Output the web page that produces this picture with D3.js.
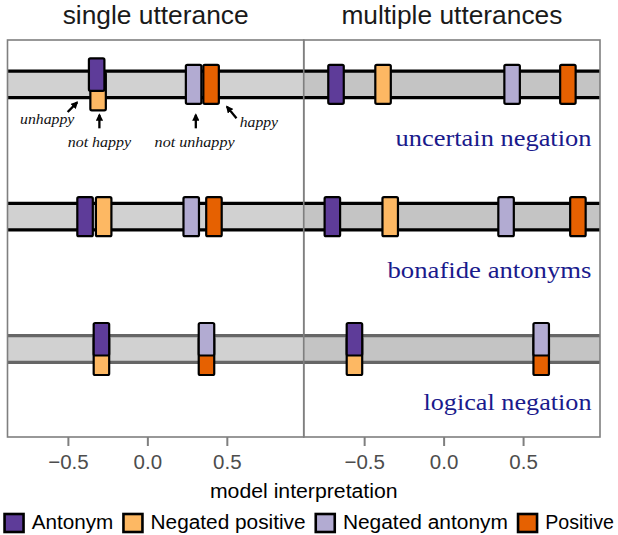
<!DOCTYPE html>
<html>
<head>
<meta charset="utf-8">
<script src="https://cdn.jsdelivr.net/npm/d3@7"></script>
<style>
  html, body { margin: 0; padding: 0; background: #fff; }
  svg { display: block; }
</style>
</head>
<body>
<svg id="chart" width="618" height="535"></svg>
<script>
// ---------------- data ----------------
const panels = ["single utterance", "multiple utterances"];
const rows = ["uncertain negation", "bonafide antonyms", "logical negation"];
const seriesNames = ["Antonym", "Negated positive", "Negated antonym", "Positive"];
const seriesColors = ["#5e3c99", "#fdb863", "#b2abd2", "#e66101"];
const tickValues = [-0.5, 0.0, 0.5];
const xDomain = [-0.88, 0.984];

// values per row (uncertain negation, bonafide antonyms, logical negation)
const antonymSingle        = [-0.319, -0.392, -0.289];
const negPositiveSingle    = [-0.310, -0.275, -0.289];
const negAntonymSingle     = [ 0.291,  0.276,  0.372];
const positiveSingle       = [ 0.401,  0.419,  0.372];

const antonymMultiple      = [-0.677, -0.700, -0.561];
const negPositiveMultiple  = [-0.381, -0.336, -0.561];
const negAntonymMultiple   = [ 0.431,  0.393,  0.614];
const positiveMultiple     = [ 0.782,  0.845,  0.614];

const annotationLabels = ["unhappy", "not happy", "not unhappy", "happy"];

const valuesByPanel = [
  [antonymSingle, negPositiveSingle, negAntonymSingle, positiveSingle],
  [antonymMultiple, negPositiveMultiple, negAntonymMultiple, positiveMultiple]
];

// ---------------- layout ----------------
const svg = d3.select("#chart");
const plotLeft = 7.5, plotRight = 600, plotTop = 40, plotBottom = 437;
const panelW = (plotRight - plotLeft) / 2;
const bandFill = ["#d1d1d1", "#c4c4c4"];
const lineColors = ["#000000", "#000000", "#666666"];
const boxW = 15.5, boxH = 39, boxStroke = 2.2;

const yRow = d3.scaleBand().domain(rows).range([plotTop, plotBottom]);
const rowCenter = r => yRow(r) + yRow.bandwidth() * 0.335;

const defs = svg.append("defs");
defs.append("marker")
  .attr("id", "ah").attr("viewBox", "0 0 10 10")
  .attr("refX", 8).attr("refY", 5)
  .attr("markerWidth", 3.2).attr("markerHeight", 3.2)
  .attr("markerUnits", "strokeWidth")
  .attr("orient", "auto")
  .append("path").attr("d", "M0,0 L10,5 L0,10 z").attr("fill", "#000");

panels.forEach((p, pi) => {
  const x0 = plotLeft + pi * panelW, x1 = x0 + panelW;
  const x = d3.scaleLinear().domain(xDomain).range([x0, x1]);
  const g = svg.append("g");

  // strip title
  g.append("text")
    .attr("x", (x0 + x1) / 2).attr("y", 24)
    .attr("text-anchor", "middle")
    .attr("font-family", "Liberation Sans, Arial, sans-serif")
    .attr("font-size", 25.5).attr("fill", "#1a1a1a")
    .attr("textLength", pi === 0 ? 186 : 221).attr("lengthAdjust", "spacingAndGlyphs")
    .text(p);

  rows.forEach((r, ri) => {
    const cy = rowCenter(r);
    const half = 13.3;
    g.append("rect")
      .attr("x", x0).attr("y", cy - half)
      .attr("width", x1 - x0).attr("height", half * 2)
      .attr("fill", bandFill[pi]);
    [cy - half, cy + half].forEach(yy => {
      g.append("line")
        .attr("x1", x0).attr("x2", x1).attr("y1", yy).attr("y2", yy)
        .attr("stroke", lineColors[ri]).attr("stroke-width", 3.3);
    });

    // boxes
    const vals = seriesNames.map((s, si) => valuesByPanel[pi][si][ri]);
    const boxes = [];
    [[0, 1], [2, 3]].forEach(([a, b]) => {
      const xa = x(vals[a]), xb = x(vals[b]);
      if (Math.abs(xa - xb) < 8) {
        boxes.push({ si: b, cx: xb, top: cy - 12, bot: cy + 26 });
        boxes.push({ si: a, cx: xa, top: cy - 26, bot: cy + 6.5 });
      } else {
        boxes.push({ si: a, cx: xa, top: cy - boxH / 2, bot: cy + boxH / 2 });
        boxes.push({ si: b, cx: xb, top: cy - boxH / 2, bot: cy + boxH / 2 });
      }
    });
    boxes.forEach(bx => {
      g.append("rect")
        .attr("x", bx.cx - boxW / 2).attr("y", bx.top)
        .attr("width", boxW).attr("height", bx.bot - bx.top)
        .attr("rx", 1.5)
        .attr("fill", seriesColors[bx.si])
        .attr("stroke", "#000").attr("stroke-width", boxStroke);
    });

    // annotations (first row, single utterance)
    if (pi === 0 && ri === 0) {
      const cx = vals.map(v => x(v));
      const arrows = [
        { x1: cx[0] - 29, y1: cy + 27.7, x2: cx[0] - 19.5, y2: cy + 18 },
        { x1: cx[1] + 1.3, y1: cy + 44, x2: cx[1] + 1.3, y2: cy + 30.5 },
        { x1: cx[2] + 2.2, y1: cy + 44, x2: cx[2] + 2.2, y2: cy + 30.5 },
        { x1: cx[3] + 25.4, y1: cy + 34, x2: cx[3] + 15.8, y2: cy + 22.3 }
      ];
      arrows.forEach(a => {
        g.append("line")
          .attr("x1", a.x1).attr("y1", a.y1).attr("x2", a.x2).attr("y2", a.y2)
          .attr("stroke", "#000").attr("stroke-width", 2.3)
          .attr("marker-end", "url(#ah)");
      });
      const labs = [
        { x: cx[0] - 22.3, y: cy + 39.7, anchor: "end", len: 54.3 },
        { x: cx[1] + 1.3, y: cy + 62.4, anchor: "middle", len: 63.4 },
        { x: cx[2] + 1, y: cy + 62.4, anchor: "middle", len: 80 },
        { x: cx[3] + 28.7, y: cy + 42.4, anchor: "start", len: 38.3 }
      ];
      labs.forEach((l, i) => {
        g.append("text")
          .attr("x", l.x).attr("y", l.y)
          .attr("text-anchor", l.anchor)
          .attr("font-family", "Liberation Serif, Times New Roman, serif")
          .attr("font-style", "italic")
          .attr("font-size", 15).attr("fill", "#111")
          .attr("textLength", l.len).attr("lengthAdjust", "spacingAndGlyphs")
          .text(annotationLabels[i]);
      });
    }

    // row labels (right panel)
    if (pi === 1) {
      const lens = [196, 204, 168];
      g.append("text")
        .attr("x", x1 - 8.5).attr("y", cy + 61.5)
        .attr("text-anchor", "end")
        .attr("font-family", "Liberation Serif, Times New Roman, serif")
        .attr("font-size", 24).attr("fill", "#1a1a8c")
        .attr("textLength", lens[ri]).attr("lengthAdjust", "spacingAndGlyphs")
        .text(r);
    }
  });

  // panel border
  g.append("rect")
    .attr("x", x0).attr("y", plotTop)
    .attr("width", x1 - x0).attr("height", plotBottom - plotTop)
    .attr("fill", "none").attr("stroke", "#7f7f7f").attr("stroke-width", 1.6);

  // axis
  const axis = d3.axisBottom(x).tickValues(tickValues)
    .tickSize(9).tickPadding(3).tickFormat(d3.format(".1f"));
  const ag = svg.append("g").attr("transform", `translate(0,${plotBottom})`).call(axis);
  ag.select(".domain").remove();
  ag.selectAll(".tick line").attr("stroke", "#7f7f7f").attr("stroke-width", 2);
  ag.selectAll(".tick text")
    .attr("font-family", "Liberation Sans, Arial, sans-serif")
    .attr("font-size", 20.5).attr("fill", "#4d4d4d")
    .attr("dy", null).attr("y", 32.3);
});

// axis title
svg.append("text")
  .attr("x", (plotLeft + plotRight) / 2).attr("y", 498.3)
  .attr("text-anchor", "middle")
  .attr("font-family", "Liberation Sans, Arial, sans-serif")
  .attr("font-size", 20).attr("fill", "#000")
  .attr("textLength", 187.7).attr("lengthAdjust", "spacingAndGlyphs")
  .text("model interpretation");

// legend
const legendLens = [81.6, 155, 165, 68.7];
let lx = 3.3;
const lg = svg.append("g");
seriesNames.forEach((s, i) => {
  lg.append("rect")
    .attr("x", lx + 1.25).attr("y", 514)
    .attr("width", 19).attr("height", 18)
    .attr("fill", seriesColors[i]).attr("stroke", "#000").attr("stroke-width", 2.6);
  const tx = lx + 28.4;
  lg.append("text")
    .attr("x", tx).attr("y", 528.5)
    .attr("font-family", "Liberation Sans, Arial, sans-serif")
    .attr("font-size", 19.5).attr("fill", "#000")
    .attr("textLength", legendLens[i]).attr("lengthAdjust", "spacingAndGlyphs")
    .text(s);
  lx = tx + legendLens[i] + 8.9;
});
</script>
</body>
</html>
